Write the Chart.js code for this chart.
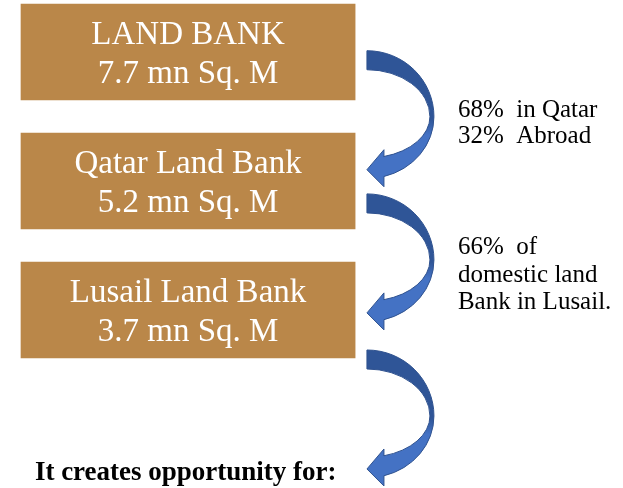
<!DOCTYPE html>
<html>
<head>
<meta charset="utf-8">
<script src="https://cdn.jsdelivr.net/npm/chart.js@4"></script>
<style>
  html, body { margin: 0; padding: 0; background: #ffffff; }
  canvas { display: block; }
</style>
</head>
<body>
<canvas id="flow" width="623" height="488"></canvas>
<script>
// land bank figures (mn Sq. M)
const boxLabels = ["LAND BANK", "Qatar Land Bank", "Lusail Land Bank"];
const boxValues = [7.7, 5.2, 3.7];
const notes = [
  ["68%  in Qatar", "32%  Abroad"],
  ["66%  of", "domestic land", "Bank in Lusail."]
];
const footer = "It creates opportunity for:";

// where the arrows start, in box units (0 = first box)
const arrowStarts = [-0.01, 1.10, 2.31];
const noteRows = [0.50, 1.566];
const noteGap = [26, 27.5];
const footerRow = 3.315;

const boxColor = "#BA8749";

function drawArrow(ctx, x0, y0) {
  const cy = y0 + 66;
  const grad = ctx.createLinearGradient(0, y0, 0, y0 + 136);
  grad.addColorStop(0, "#2F5597");
  grad.addColorStop(0.5, "#2F5597");
  grad.addColorStop(0.62, "#4472C4");
  grad.addColorStop(1, "#4472C4");
  const to = Math.acos(17 / 67);
  const ti = Math.acos(17 / 63);
  ctx.beginPath();
  ctx.moveTo(x0, y0);
  ctx.ellipse(x0, cy, 67, 66, 0, -Math.PI / 2, 0);
  ctx.ellipse(x0, cy, 67, 61.8, 0, 0, to);
  ctx.lineTo(x0 + 17, y0 + 136);
  ctx.lineTo(x0, y0 + 119);
  ctx.lineTo(x0 + 17, y0 + 99);
  ctx.lineTo(x0 + 17, y0 + 106);
  ctx.ellipse(x0, cy, 63, 41.3, 0, ti, 0, true);
  ctx.ellipse(x0, cy, 63, 47, 0, 0, -Math.PI / 2, true);
  ctx.closePath();
  ctx.fillStyle = grad;
  ctx.fill();
  ctx.lineWidth = 1;
  ctx.strokeStyle = "#2F528F";
  ctx.stroke();
}

const flowText = {
  id: "flowText",
  afterDatasetsDraw(chart) {
    const ctx = chart.ctx;
    const xs = chart.scales.x;
    const ys = chart.scales.y;
    const meta = chart.getDatasetMeta(0);
    ctx.save();

    // box captions
    ctx.fillStyle = "#ffffff";
    ctx.textAlign = "center";
    ctx.textBaseline = "alphabetic";
    ctx.font = "33px 'Liberation Serif', serif";
    meta.data.forEach((el, i) => {
      const cx = (el.x + el.base) / 2;
      ctx.fillText(boxLabels[i], cx, el.y - 8.5);
      ctx.fillText(boxValues[i] + " mn Sq. M", cx, el.y + 30.5);
    });

    // arrows
    arrowStarts.forEach(v => drawArrow(ctx, xs.getPixelForValue(58.9), ys.getPixelForValue(v)));

    // side notes
    ctx.fillStyle = "#000000";
    ctx.textAlign = "left";
    ctx.font = "25px 'Liberation Serif', serif";
    notes.forEach((lines, i) => {
      const top = ys.getPixelForValue(noteRows[i]);
      lines.forEach((t, j) => ctx.fillText(t, xs.getPixelForValue(73.5), top + j * noteGap[i]));
    });

    // footer
    ctx.font = "bold 27px 'Liberation Serif', serif";
    ctx.fillText(footer, xs.getPixelForValue(5.6), ys.getPixelForValue(footerRow));
    ctx.restore();
  }
};

const chart = new Chart(document.getElementById("flow").getContext("2d"), {
  type: "bar",
  data: {
    datasets: [
      {
        label: "Land bank",
        data: boxValues.map((v, i) => ({ x: [3.37, 57.0], y: i })),
        backgroundColor: boxColor,
        borderWidth: 0,
        barThickness: 96,
      }
    ],
  },
  options: {
    indexAxis: "y",
    responsive: false,
    animation: false,
    layout: { padding: 0 },
    scales: {
      x: { type: "linear", min: 0, max: 100, display: false },
      y: { type: "linear", offset: false, min: -52 / 129, max: 436 / 129, reverse: true, display: false },
    },
    plugins: {
      legend: { display: false },
      tooltip: { enabled: false },
    }
  },
  plugins: [flowText],
});
</script>
</body>
</html>
